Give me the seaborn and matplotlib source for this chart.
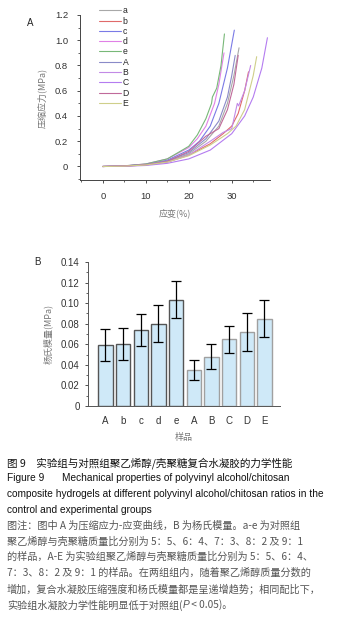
import matplotlib
matplotlib.use("Agg")
import matplotlib.pyplot as plt
from matplotlib.ticker import MultipleLocator, FuncFormatter
import numpy as np
import pandas as pd
import seaborn as sns

sns.set_style("ticks")
plt.rcParams["font.family"] = ["Liberation Sans", "Noto Sans CJK SC", "DejaVu Sans"]
CJK = ["Noto Sans CJK SC", "DejaVu Sans"]

# ---- panel A: stress-strain curves ----
curve_names = ["a", "b", "c", "d", "e", "A", "B", "C", "D", "E"]
curve_colors = ["#a8a8a8", "#e06a6a", "#7a7ae6", "#e080e6", "#78b878",
                "#8a8ac8", "#c28ae6", "#b47cf0", "#c06a9a", "#cfcf8a"]

strain_a = [0, 5, 10, 15, 20, 24, 27, 29, 30.5, 31.7]
stress_a = [0, 0.004, 0.015, 0.04, 0.10, 0.20, 0.32, 0.50, 0.72, 0.94]
strain_b = [0, 5, 10, 15, 20, 25, 28, 30, 31.5, 33, 33.9]
stress_b = [0, 0.003, 0.012, 0.035, 0.09, 0.18, 0.26, 0.32, 0.42, 0.60, 0.75]
strain_c = [0, 5, 10, 15, 20, 22.5, 25, 27, 29, 30.6]
stress_c = [0, 0.004, 0.018, 0.05, 0.13, 0.20, 0.32, 0.50, 0.78, 1.08]
strain_d = [0, 5, 10, 15, 20, 22, 24, 26, 27, 28.2]
stress_d = [0, 0.005, 0.02, 0.06, 0.15, 0.22, 0.32, 0.50, 0.65, 0.90]
strain_e = [0, 5, 10, 15, 20, 22, 24, 25.3, 25.5, 26.5, 27.5, 28.3]
stress_e = [0, 0.005, 0.02, 0.06, 0.16, 0.25, 0.38, 0.50, 0.55, 0.62, 0.80, 1.05]
strain_A = [0, 5, 10, 15, 20, 24, 27, 29, 30, 30.8]
stress_A = [0, 0.004, 0.016, 0.045, 0.11, 0.22, 0.36, 0.55, 0.72, 0.88]
strain_B = [0, 5, 10, 15, 20, 25, 28, 30, 31.3, 31.6, 33, 34.4]
stress_B = [0, 0.003, 0.012, 0.035, 0.09, 0.20, 0.27, 0.30, 0.50, 0.48, 0.60, 0.80]
strain_C = [0, 5, 10, 15, 20, 25, 30, 33, 35, 37, 38.3]
stress_C = [0, 0.002, 0.008, 0.025, 0.06, 0.13, 0.26, 0.40, 0.55, 0.78, 1.02]
strain_D = [0, 5, 10, 15, 20, 24, 27, 29, 30.5, 31.5]
stress_D = [0, 0.004, 0.014, 0.04, 0.12, 0.24, 0.30, 0.45, 0.65, 0.88]
strain_E = [0, 5, 10, 15, 20, 25, 29, 31, 33, 35, 35.8]
stress_E = [0, 0.003, 0.012, 0.035, 0.085, 0.17, 0.26, 0.32, 0.45, 0.72, 0.87]

strains = [strain_a, strain_b, strain_c, strain_d, strain_e,
           strain_A, strain_B, strain_C, strain_D, strain_E]
stresses = [stress_a, stress_b, stress_c, stress_d, stress_e,
            stress_A, stress_B, stress_C, stress_D, stress_E]

curves = pd.concat([
    pd.DataFrame({"strain": s, "stress": p, "sample": n, "order": np.arange(len(s))})
    for s, p, n in zip(strains, stresses, curve_names)
])

# ---- panel B: Young's modulus ----
bar_labels = ["A", "b", "c", "d", "e", "A", "B", "C", "D", "E"]
modulus = [0.059, 0.060, 0.0735, 0.080, 0.1035, 0.035, 0.048, 0.065, 0.0715, 0.085]
modulus_err = [0.0155, 0.0155, 0.0155, 0.018, 0.018, 0.0093, 0.0125, 0.013, 0.0185, 0.018]

W, H = 340, 622
fig = plt.figure(figsize=(W / 100, H / 100), dpi=100)


def box(l, t, r, b):
    return [l / W, 1 - b / H, (r - l) / W, (b - t) / H]


axA = fig.add_axes(box(80, 15, 270, 180))
sns.lineplot(data=curves, x="strain", y="stress", hue="sample", hue_order=curve_names,
             palette=curve_colors, sort=False, units="sample", estimator=None,
             linewidth=0.8, ax=axA, legend=True)
axA.set_xlim(-5.3, 38.9)
axA.set_ylim(-0.107, 1.2)
axA.xaxis.set_major_locator(MultipleLocator(10))
axA.xaxis.set_minor_locator(MultipleLocator(5))
axA.yaxis.set_major_locator(MultipleLocator(0.2))
axA.yaxis.set_minor_locator(MultipleLocator(0.1))
axA.yaxis.set_major_formatter(FuncFormatter(lambda v, p: "0" if abs(v) < 1e-9 else f"{v:.1f}"))
axA.set_xlabel("应变(%)", family=CJK, fontsize=6.5, color="#777777", labelpad=6)
axA.set_ylabel("压缩应力(MPa)", family=CJK, fontsize=6.5, color="#777777", labelpad=6)
axA.tick_params(labelsize=6.8, length=2.5, width=0.6, colors="#333333", pad=6)
axA.tick_params(which="minor", length=1.5, width=0.5)
for s in ["top", "right"]:
    axA.spines[s].set_visible(False)
for s in ["left", "bottom"]:
    axA.spines[s].set_linewidth(0.7)
    axA.spines[s].set_color("#444444")
handles, labels = axA.get_legend_handles_labels()
axA.legend(handles, labels, loc="upper left", bbox_to_anchor=(95 / W, 1 - 2 / H),
           bbox_transform=fig.transFigure, frameon=False, fontsize=6.2,
           handlelength=2.5, handletextpad=0.2, labelspacing=0.15, borderpad=0)

axB = fig.add_axes(box(88, 262, 280, 406))
bars = pd.DataFrame({"pos": np.arange(len(modulus)), "modulus": modulus})
sns.barplot(data=bars, x="pos", y="modulus", color="#cfe9f8", errorbar=None,
            width=0.8, saturation=1, ax=axB)
for i, patch in enumerate(axB.patches):
    patch.set_edgecolor("#555555" if i < 5 else "#a0a0a0")
    patch.set_linewidth(1.0)
axB.errorbar(bars["pos"], modulus, yerr=modulus_err, fmt="none", ecolor="black",
             elinewidth=0.9, capsize=3.3, capthick=0.9)
axB.set_xlim(-0.99, 9.88)
axB.set_ylim(0, 0.14)
axB.set_xticks(np.arange(len(bar_labels)))
axB.set_xticklabels(bar_labels)
axB.yaxis.set_major_locator(MultipleLocator(0.02))
axB.yaxis.set_minor_locator(MultipleLocator(0.01))
axB.yaxis.set_major_formatter(FuncFormatter(lambda v, p: "0" if abs(v) < 1e-9 else f"{v:.2f}"))
axB.set_xlabel("样品", family=CJK, fontsize=6.5, color="#777777", labelpad=5)
axB.set_ylabel("杨氏模量(MPa)", family=CJK, fontsize=6.5, color="#777777", labelpad=6)
axB.tick_params(labelsize=7, length=2.5, width=0.6, colors="#333333")
axB.tick_params(axis="x", length=0, pad=7)
axB.tick_params(which="minor", length=1.5, width=0.5)
for s in ["top", "right"]:
    axB.spines[s].set_visible(False)
for s in ["left", "bottom"]:
    axB.spines[s].set_linewidth(0.7)
    axB.spines[s].set_color("#555555")

fig.text(30 / W, 1 - 23 / H, "A", fontsize=7, ha="center", va="center")
fig.text(37 / W, 1 - 262 / H, "B", fontsize=7, ha="center", va="center")

# ---- caption ----
x0 = 7 / W
fig.text(x0, 1 - 463 / H, "图 9　实验组与对照组聚乙烯醇/壳聚糖复合水凝胶的力学性能",
         family=CJK, fontsize=7.6, va="center", color="#111111")
fig.text(x0, 1 - 478 / H, "Figure 9", fontsize=7.3, va="center", color="#111111")
fig.text(62 / W, 1 - 478 / H, "Mechanical properties of polyvinyl alcohol/chitosan",
         fontsize=7.3, va="center", color="#111111")
fig.text(x0, 1 - 494 / H,
         "composite hydrogels at different polyvinyl alcohol/chitosan ratios in the",
         fontsize=7.3, va="center", color="#111111")
fig.text(x0, 1 - 510 / H, "control and experimental groups",
         fontsize=7.3, va="center", color="#111111")

note_lines = [
    "图注：图中 A 为压缩应力-应变曲线，B 为杨氏模量。a-e 为对照组",
    "聚乙烯醇与壳聚糖质量比分别为 5：5、6：4、7：3、8：2 及 9：1",
    "的样品，A-E 为实验组聚乙烯醇与壳聚糖质量比分别为 5：5、6：4、",
    "7：3、8：2 及 9：1 的样品。在两组组内，随着聚乙烯醇质量分数的",
    "增加，复合水凝胶压缩强度和杨氏模量都是呈递增趋势；相同配比下，",
]
note_y = [526, 542, 557, 573, 589]
for line, y in zip(note_lines, note_y):
    fig.text(x0, 1 - y / H, line, family=CJK, fontsize=7.3, va="center", color="#555555")

# last line with italic P
renderer = fig.canvas.get_renderer()
yl = 1 - 605 / H
t1 = fig.text(x0, yl, "实验组水凝胶力学性能明显低于对照组(", family=CJK, fontsize=7.3,
              va="center", color="#555555")
x1 = t1.get_window_extent(renderer).x1 / W
t2 = fig.text(x1, yl, "P", fontsize=7.3, style="italic", va="center", color="#555555")
x2 = t2.get_window_extent(renderer).x1 / W
fig.text(x2, yl, " < 0.05)。", family=CJK, fontsize=7.3, va="center", color="#555555")

fig.savefig("out.png", dpi=100)
